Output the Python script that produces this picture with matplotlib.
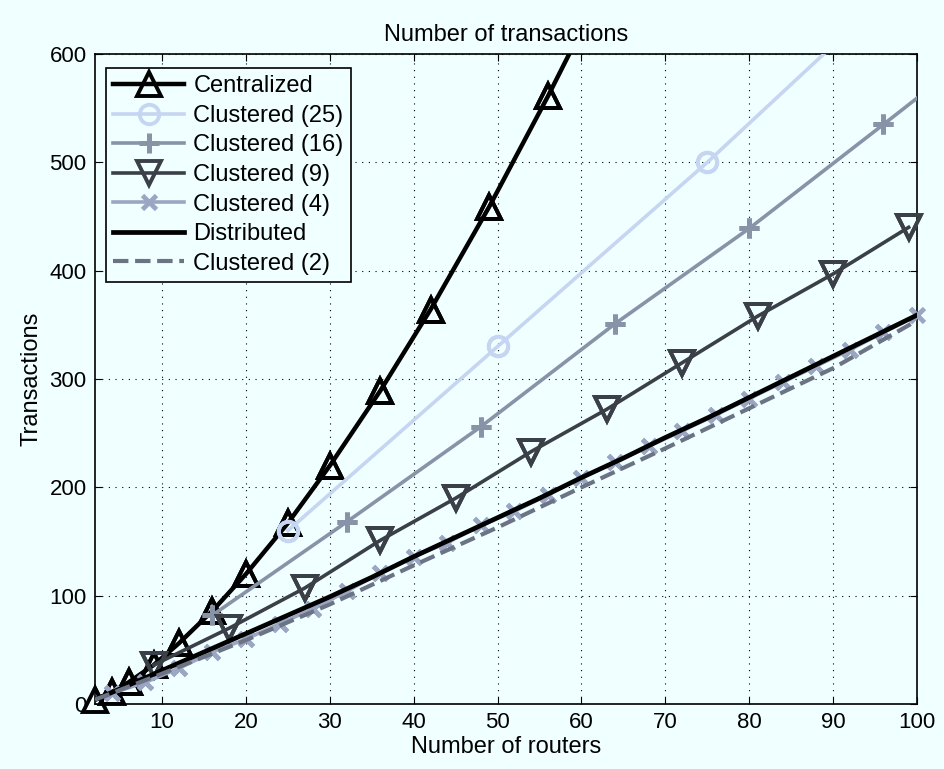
import numpy as np
import matplotlib.pyplot as plt

plt.rcParams['font.family'] = ['Liberation Sans', 'DejaVu Sans']

# data
n_central = [2, 4, 6, 9, 12, 16, 20, 25, 30, 36, 42, 49, 56, 64]
y_central = [4, 11, 20, 36, 56, 86, 120, 167, 220, 289, 364, 459, 561, 684]

n_c25 = [25, 50, 75, 100]
y_c25 = [160, 330, 500, 680]

n_c16 = [16, 32, 48, 64, 80, 96, 112]
y_c16 = [82, 168, 256, 351, 439, 535, 632]

n_c9 = [9, 18, 27, 36, 45, 54, 63, 72, 81, 90, 99]
y_c9 = [36, 70, 107, 151, 190, 233, 272, 315, 358, 397, 440]

n_c4 = [4, 8, 12, 16, 20, 24, 28, 32, 36, 40, 44, 48, 52,
        56, 60, 64, 68, 72, 76, 80, 84, 88, 92, 96, 100]
y_c4 = [10, 20, 33, 48, 60, 74, 88, 104, 121, 136, 149, 165, 178,
        193, 209, 223, 238, 252, 267, 282, 297, 312, 327, 343, 359]

n_dist = [2, 5, 10, 15, 20, 25, 30, 35, 40, 45, 50, 55, 60, 65,
          70, 75, 80, 85, 90, 95, 100]
y_dist = [4, 14, 31, 48, 65, 82, 99, 117, 136, 154, 172, 190, 209, 227,
          246, 264, 283, 302, 321, 340, 359]

n_c2 = [2, 10, 20, 30, 40, 50, 60, 70, 80, 90, 100]
y_c2 = [4, 28, 59, 92, 128, 163, 200, 236, 273, 310, 354]

bg = '#F0FFFF'
fs = 17
fig = plt.figure(figsize=(9.45, 7.69), dpi=100, facecolor=bg)
ax = fig.add_axes([0.1005, 0.0845, 0.8699, 0.8453], facecolor=bg)

# label, x, y, colour, linestyle, marker, size, line width, marker edge width
series = [
    ('Centralized', n_central, y_central, 'k', '-', '^', 17, 3.2, 2.8),
    ('Clustered (25)', n_c25, y_c25, '#C6D6F2', '-', 'o', 14, 2.6, 2.8),
    ('Clustered (16)', n_c16, y_c16, '#8893A8', '-', '+', 15, 2.6, 3.6),
    ('Clustered (9)', n_c9, y_c9, '#3B4048', '-', 'v', 17, 2.6, 2.8),
    ('Clustered (4)', n_c4, y_c4, '#9AA6C2', '-', 'x', 10, 2.6, 3.4),
    ('Distributed', n_dist, y_dist, 'k', '-', None, 0, 3.4, 0),
    ('Clustered (2)', n_c2, y_c2, '#6B7384', '--', None, 0, 3.0, 0),
]

for i, (lab, xs, ys, col, ls, mk, ms, lw, mew) in enumerate(series):
    ax.plot(xs, ys, color=col, ls=ls, lw=lw, marker=mk, ms=ms,
            mfc='none', mec=col, mew=mew, label=lab, zorder=3 + i)
    if mk is not None:
        xs_a = np.array(xs)
        ys_a = np.array(ys)
        keep = (ys_a <= 600) & (xs_a <= 100)
        ax.plot(xs_a[keep], ys_a[keep], ls='none', marker=mk, ms=ms,
                mfc='none', mec=col, mew=mew, clip_on=False, zorder=3 + i)

ax.set_xlim(2, 100)
ax.set_ylim(0, 600)
ax.set_xticks(np.arange(10, 101, 10))
ax.set_yticks(np.arange(0, 601, 100))
ax.tick_params(direction='in', top=True, right=True, length=5,
               labelsize=16, pad=6)
ax.grid(True, color='k', ls=(0, (1, 5)), lw=0.8)
for s in ax.spines.values():
    s.set_linewidth(1.2)

ax.set_title('Number of transactions', fontsize=fs, pad=9)
ax.set_xlabel('Number of routers', fontsize=fs, labelpad=2)
ax.set_ylabel('Transactions', fontsize=fs, labelpad=5)

leg = ax.legend(loc='upper left', bbox_to_anchor=(0.0135, 0.978),
                borderaxespad=0, fontsize=fs, handlelength=3.0,
                labelspacing=0.32, fancybox=False, framealpha=1,
                edgecolor='k', facecolor=bg, handletextpad=0.4,
                borderpad=0.3)
leg.get_frame().set_linewidth(1.2)

fig.savefig('out.png', dpi=100, facecolor=bg)
